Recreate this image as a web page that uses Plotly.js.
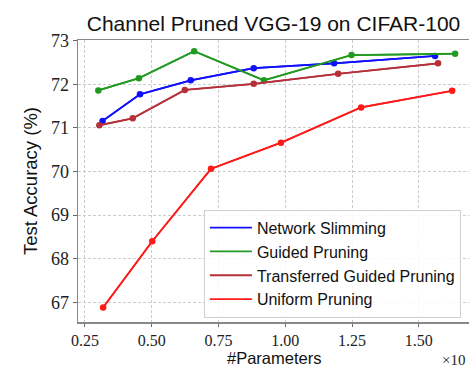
<!DOCTYPE html>
<html><head><meta charset="utf-8">
<script src="https://cdn.plot.ly/plotly-3.0.1.min.js"></script>
<style>html,body{margin:0;padding:0;background:#fff}#c{width:469px;height:367px}</style>
</head><body><div id="c"></div>
<script>
const seriesNames = ["Network Slimming","Guided Pruning","Transferred Guided Pruning","Uniform Pruning"];
const nsX = [0.316,0.456,0.646,0.882,1.183,1.561];
const nsY = [71.16,71.77,72.09,72.37,72.48,72.65];
const gpX = [0.300,0.452,0.659,0.920,1.248,1.636];
const gpY = [71.86,72.14,72.76,72.09,72.67,72.70];
const tgpX = [0.304,0.429,0.624,0.882,1.198,1.572];
const tgpY = [71.06,71.22,71.87,72.01,72.24,72.48];
const upX = [0.318,0.502,0.722,0.984,1.284,1.625];
const upY = [66.88,68.40,70.06,70.66,71.47,71.85];
const xTicks = [0.25,0.50,0.75,1.00,1.25,1.50];
const xTickText = ["0.25","0.50","0.75","1.00","1.25","1.50"];
const yTicks = [67,68,69,70,71,72,73];

const colors = ["#1010ff","#229a22","#b5303a","#ff1a1a"];
const xs=[nsX,gpX,tgpX,upX], ys=[nsY,gpY,tgpY,upY];
const traces=[];
for(let i=0;i<4;i++){
  traces.push({x:xs[i],y:ys[i],mode:'lines+markers',showlegend:false,
    line:{color:colors[i],width:1.6},marker:{color:colors[i],size:6.5}});
}
for(let i=0;i<4;i++){
  traces.push({x:xs[i],y:ys[i],mode:'lines',name:seriesNames[i],legendgroup:'g'+i,
    line:{color:colors[i],width:1.8},hoverinfo:'skip'});
}
const serif = "Liberation Serif, DejaVu Serif, serif";
const sans = "Liberation Sans, Arial, sans-serif";
const layout={
  width:469,height:367,
  margin:{l:78,r:0,t:40,b:45},
  paper_bgcolor:'#fff',plot_bgcolor:'#fff',
  title:{text:"Channel Pruned VGG-19 on CIFAR-100",font:{family:sans,size:21,color:'#111'},xref:'paper',x:0.5,xanchor:'center',yref:'container',y:0.935,yanchor:'middle'},
  xaxis:{range:[0.224,1.688],tickvals:xTicks,ticktext:xTickText,
    tickfont:{family:serif,size:16,color:'#222'},ticks:'outside',ticklen:3,tickcolor:'#666',
    showline:true,linecolor:'#888',linewidth:1.5,mirror:true,
    showgrid:true,gridcolor:'#cccccc',griddash:'3px,2px',gridwidth:1,zeroline:false},
  yaxis:{range:[66.546,73.016],tickvals:yTicks,
    tickfont:{family:serif,size:18,color:'#222'},ticks:'outside',ticklen:4,tickcolor:'#666',
    showline:true,linecolor:'#888',linewidth:1.5,
    showgrid:true,gridcolor:'#cccccc',griddash:'3px,2px',gridwidth:1,zeroline:false,
    title:{text:"Test Accuracy (%)",font:{family:sans,size:18.5,color:'#111'},standoff:8}},
  legend:{x:0.322,y:0.398,xanchor:'left',yanchor:'top',bgcolor:'rgba(255,255,255,0.85)',
    bordercolor:'#d0d0d0',borderwidth:1,font:{family:sans,size:16,color:'#111'},
    traceorder:'grouped',tracegroupgap:0,itemwidth:42},
  annotations:[
    {text:"#Parameters",xref:'paper',yref:'paper',x:0.5,y:-0.163,xanchor:'center',yanchor:'bottom',
     showarrow:false,borderpad:0,font:{family:sans,size:16.5,color:'#111'}},
    {text:"×10",xref:'paper',yref:'paper',x:0.926,y:-0.133,xanchor:'left',yanchor:'middle',
    showarrow:false,font:{family:serif,size:15,color:'#222'}}],
  showlegend:true
};
Plotly.newPlot('c',traces,layout,{displayModeBar:false,staticPlot:true});
</script></body></html>
